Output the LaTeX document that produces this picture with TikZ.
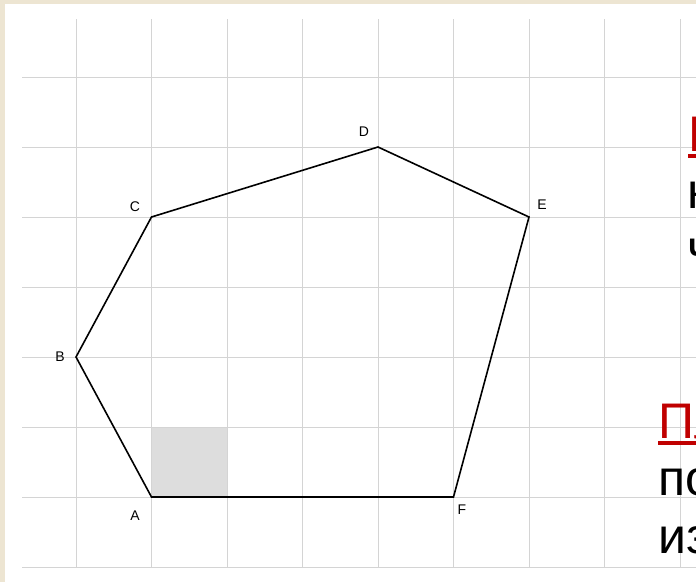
\documentclass[tikz,border=0pt]{standalone}
\usepackage{fontspec}
\setmainfont{Liberation Sans}
\definecolor{paper}{RGB}{237,229,210}
\definecolor{gridgray}{RGB}{212,212,212}
\definecolor{cellgray}{RGB}{221,221,221}
\definecolor{headred}{RGB}{192,0,0}

\begin{document}
\begin{tikzpicture}[x=1pt,y=-1pt,
  gridline/.style={draw=gridgray,line width=1pt},
  edge/.style={draw=black,line width=1.6pt,line join=miter},
  vlabel/.style={font=\fontsize{14}{16}\selectfont,inner sep=0pt},
  bigtext/.style={font=\fontsize{50}{57}\selectfont,inner sep=0pt,anchor=base west},
  headline/.style={bigtext,text=headred},
  uline/.style={draw=headred,line width=4pt}]
\useasboundingbox (0,0) rectangle (696,582);
\fill[paper] (0,0) rectangle (696,582);
\fill[white] (5,4) rectangle (696,582);
% grid
\foreach \i in {0,...,8}
  \draw[gridline] ({76+75.5*\i},19) -- ({76+75.5*\i},567);
\foreach \j in {0,...,7}
  \draw[gridline] (22,{77+70*\j}) -- (696,{77+70*\j});
\fill[cellgray] (152,428) rectangle (227,496);
% vertices
\coordinate (A) at (151.5,497);
\coordinate (B) at (76,357);
\coordinate (C) at (151.5,217);
\coordinate (D) at (378,147);
\coordinate (E) at (529,217);
\coordinate (F) at (453.5,497);
\draw[edge] (A) -- (B) -- (C) -- (D) -- (E) -- (F) -- cycle;
\node[vlabel] (lblA) at (135,516) {A};
\node[vlabel] (lblB) at (60,357) {B};
\node[vlabel] (lblC) at (135,207) {C};
\node[vlabel] (lblD) at (364,132) {D};
\node[vlabel] (lblE) at (542,205) {E};
\node[vlabel] (lblF) at (462,510) {F};
% text at the right edge
\node[headline] (headTop) at (688,151) {Найдите};
\node[bigtext] (lineTopB) at (687,208) {нужное};
\node[bigtext] (lineTopC) at (687,265) {число клеток};
\node[headline] (headBot) at (658,438) {Площадь};
\node[bigtext] (lineBotB) at (658,495) {подсчитаем};
\node[bigtext] (lineBotC) at (658,553) {из клеток};
\draw[uline] ([yshift=-4.5pt]headTop.base west) -- ([yshift=-4.5pt]headTop.base east);
\draw[uline] ([yshift=-4.5pt]headBot.base west) -- ([yshift=-4.5pt]headBot.base east);
\end{tikzpicture}
\end{document}
